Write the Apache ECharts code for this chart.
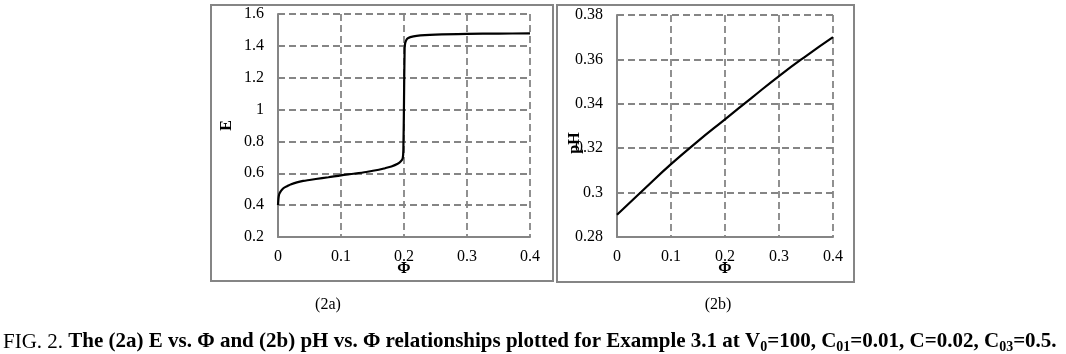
<!DOCTYPE html>
<html>
<head>
<meta charset="utf-8">
<script src="https://cdn.jsdelivr.net/npm/echarts@6/dist/echarts.min.js"></script>
<style>html,body{margin:0;padding:0;background:#fff;}#c{width:1066px;height:354px;}</style>
</head>
<body>
<div id="c"></div>
<script>
// Panel 2a: E vs Phi
const phiA = [0, 0.0005, 0.001, 0.002, 0.004, 0.007, 0.01, 0.015, 0.02, 0.03, 0.04, 0.05, 0.06, 0.08, 0.1, 0.12, 0.14, 0.16, 0.17, 0.18, 0.19, 0.195, 0.198, 0.199, 0.2, 0.201, 0.202, 0.205, 0.21, 0.22, 0.25, 0.3, 0.35, 0.4];
const eVals = [0.40, 0.43, 0.45, 0.47, 0.485, 0.50, 0.51, 0.52, 0.53, 0.543, 0.552, 0.558, 0.564, 0.575, 0.587, 0.597, 0.608, 0.622, 0.632, 0.643, 0.66, 0.675, 0.695, 0.75, 1.05, 1.38, 1.42, 1.445, 1.455, 1.463, 1.47, 1.475, 1.477, 1.478];
// Panel 2b: pH vs Phi
const phiB = [0, 0.05, 0.1, 0.15, 0.2, 0.25, 0.3, 0.35, 0.4];
const pHVals = [0.29, 0.3015, 0.3128, 0.3232, 0.333, 0.3428, 0.3525, 0.3615, 0.370];
// Captions
const subCaptions = ['(2a)', '(2b)'];

const serif = '"Liberation Serif", "Times New Roman", serif';
const grey = '#858585';

const chart = echarts.init(document.getElementById('c'), null, {renderer: 'canvas'});

function xAx(gi) {
  return {
    type: 'value', gridIndex: gi, min: 0, max: 0.4, interval: 0.1,
    name: 'Φ', nameLocation: 'middle', nameGap: 24, nameMoveOverlap: false,
    nameTextStyle: {fontFamily: serif, fontSize: 16, fontWeight: 'bold', color: '#000'},
    axisLine: {show: true, lineStyle: {color: grey, width: 2}},
    axisTick: {show: false},
    axisLabel: {fontFamily: serif, fontSize: 16, color: '#000', margin: 12},
    splitLine: {show: true, lineStyle: {color: grey, width: 1.8, type: [7, 4]}}
  };
}
function yAx(gi, min, max, interval, name, gap, pad) {
  return {
    type: 'value', gridIndex: gi, min: min, max: max, interval: interval,
    name: name, nameLocation: 'middle', nameGap: gap, nameRotate: 90, nameMoveOverlap: false,
    nameTextStyle: {fontFamily: serif, fontSize: 16, fontWeight: 'bold', color: '#000', padding: pad},
    axisLine: {show: true, lineStyle: {color: grey, width: 2}},
    axisTick: {show: false},
    axisLabel: {fontFamily: serif, fontSize: 16, color: '#000', margin: 14},
    splitLine: {show: true, lineStyle: {color: grey, width: 1.8, type: [7, 4]}}
  };
}

chart.setOption({
  backgroundColor: '#fff',
  animation: false,
  grid: [
    {left: 278, right: 1066 - 530, top: 14, bottom: 354 - 237, containLabel: false},
    {left: 617, right: 1066 - 833, top: 15, bottom: 354 - 237, containLabel: false}
  ],
  xAxis: [xAx(0), xAx(1)],
  yAxis: [yAx(0, 0.2, 1.6, 0.2, 'E', 43, [0, 0, 0, 0]), yAx(1, 0.28, 0.38, 0.02, 'pH', 34, [0, 34, 0, 0])],
  series: [
    {type: 'line', xAxisIndex: 0, yAxisIndex: 0, showSymbol: false, smooth: 0.3,
     data: phiA.map((p, i) => [p, eVals[i]]), lineStyle: {color: '#000', width: 2.2}},
    {type: 'line', xAxisIndex: 1, yAxisIndex: 1, showSymbol: false, smooth: true,
     data: phiB.map((p, i) => [p, pHVals[i]]), lineStyle: {color: '#000', width: 2.2}}
  ],
  graphic: [
    {type: 'rect', shape: {x: 211, y: 5, width: 342, height: 276}, style: {fill: 'none', stroke: grey, lineWidth: 2}, silent: true},
    {type: 'rect', shape: {x: 557, y: 5, width: 297, height: 277}, style: {fill: 'none', stroke: grey, lineWidth: 2}, silent: true},
    {type: 'text', x: 328, y: 305, style: {text: subCaptions[0], font: '16px ' + serif, fill: '#000', align: 'center', verticalAlign: 'middle'}},
    {type: 'text', x: 718, y: 305, style: {text: subCaptions[1], font: '16px ' + serif, fill: '#000', align: 'center', verticalAlign: 'middle'}},
    {type: 'text', x: 3, y: 342, style: {
      text: '{n|FIG. 2. }{b|The (2a) E vs. Φ and (2b) pH vs. Φ relationships plotted for Example 3.1 at V}{s|0}{b|=100, C}{s|01}{b|=0.01, C=0.02, C}{s|03}{b|=0.5.}',
      align: 'left', verticalAlign: 'middle',
      rich: {
        n: {fontFamily: serif, fontSize: 21, color: '#000', lineHeight: 24, verticalAlign: 'middle'},
        b: {fontFamily: serif, fontSize: 21, fontWeight: 'bold', color: '#000', lineHeight: 24, verticalAlign: 'middle'},
        s: {fontFamily: serif, fontSize: 14, fontWeight: 'bold', color: '#000', lineHeight: 12, verticalAlign: 'bottom'}
      }
    }}
  ]
});
</script>
</body>
</html>
